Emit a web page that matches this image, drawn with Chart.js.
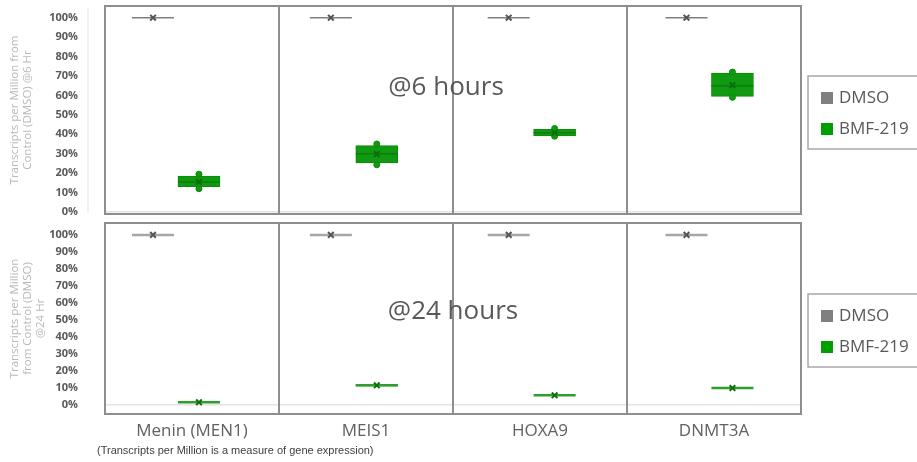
<!DOCTYPE html>
<html>
<head>
<meta charset="utf-8">
<script src="https://cdn.jsdelivr.net/npm/chart.js@4.4.1/dist/chart.umd.min.js"></script>
<style>
body { margin: 0; background: #fff; }
#wrap { position: relative; width: 917px; height: 462px; }
#wrap canvas { position: absolute; left: 0; }
</style>
</head>
<body>
<div id="wrap">
  <canvas id="panel6" width="917" height="218" style="top:0"></canvas>
  <canvas id="panel24" width="917" height="244" style="top:218px"></canvas>
</div>
<script>
// categories + tick labels
var genes = ['Menin (MEN1)', 'MEIS1', 'HOXA9', 'DNMT3A'];
var seriesNames = ['DMSO', 'BMF-219'];
var yTicks = [0, 10, 20, 30, 40, 50, 60, 70, 80, 90, 100];

// DMSO is the control, so every stat sits at 100%
var dmsoAll = [100, 100, 100, 100];

// @6 hours, BMF-219 (% of DMSO)
var bmf6Min    = [12.0, 24.3, 39.0, 59.0];
var bmf6Q1     = [13.0, 25.3, 39.2, 59.5];
var bmf6Median = [15.5, 30.0, 40.8, 65.0];
var bmf6Q3     = [18.5, 34.2, 42.6, 71.5];
var bmf6Max    = [19.5, 35.0, 43.0, 72.0];
var bmf6Mean   = [15.5, 29.8, 40.8, 65.3];

// @24 hours, BMF-219 (% of DMSO)
var bmf24Min    = [1.4, 10.9, 5.5, 9.8];
var bmf24Q1     = [1.4, 10.9, 5.5, 9.8];
var bmf24Median = [1.4, 11.4, 5.5, 9.8];
var bmf24Q3     = [1.4, 11.9, 5.5, 9.8];
var bmf24Max    = [1.4, 11.9, 5.5, 9.8];
var bmf24Mean   = [1.4, 11.4, 5.5, 9.8];

var GREEN = '#119a11';
var GREY = '#808080';
var TEXT = '#595959';

// where each series sits inside a gene's column
var slotOffset = [0.276, 0.54];
var slotSpacing = 1.022;
function xPos(s, i) { return i * slotSpacing + slotOffset[s]; }

function buildPanel(id, cfg) {
  var datasets = [];
  cfg.series.forEach(function (st, s) {
    datasets.push({
      type: 'bar', label: seriesNames[s] + ' box', grouped: false, order: 5,
      data: genes.map(function (g, i) { return { x: xPos(s, i), y: [st.q1[i], st.q3[i]] }; }),
      backgroundColor: st.fill, borderColor: st.edge, borderWidth: 1, borderSkipped: false,
      barThickness: 42
    });
    datasets.push({
      type: 'bar', label: seriesNames[s] + ' whisker', grouped: false, order: 6,
      data: genes.map(function (g, i) { return { x: xPos(s, i), y: [st.min[i], st.max[i]] }; }),
      backgroundColor: st.edge, borderWidth: 0, barThickness: 2
    });
    datasets.push({
      type: 'scatter', label: seriesNames[s] + ' median', order: 3,
      data: genes.map(function (g, i) { return { x: xPos(s, i), y: st.median[i] }; }),
      pointStyle: 'line', pointRadius: 21, borderColor: st.lineColor, borderWidth: st.lineWidth
    });
    if (st.dots) {
      var pts = [];
      genes.forEach(function (g, i) {
        pts.push({ x: xPos(s, i), y: st.min[i] });
        pts.push({ x: xPos(s, i), y: st.max[i] });
      });
      datasets.push({
        type: 'scatter', label: seriesNames[s] + ' points', order: 2, data: pts,
        pointStyle: 'circle', pointRadius: 3, backgroundColor: st.fill, borderColor: st.edge, borderWidth: 1
      });
    }
    datasets.push({
      type: 'scatter', label: seriesNames[s] + ' mean', order: 1,
      data: genes.map(function (g, i) { return { x: xPos(s, i), y: st.mean[i] }; }),
      pointStyle: 'crossRot', pointRadius: 4, borderColor: st.markColor, borderWidth: 2
    });
  });

  var decor = {
    id: 'decor',
    beforeDatasetsDraw: function (chart) {
      var ctx = chart.ctx, a = chart.chartArea, x = chart.scales.x;
      ctx.save();
      if (cfg.axisLine) {
        ctx.strokeStyle = '#e2e2e2'; ctx.lineWidth = 1;
        ctx.beginPath(); ctx.moveTo(a.left - 17, a.top + 2); ctx.lineTo(a.left - 17, a.bottom - 1); ctx.stroke();
      }
      ctx.strokeStyle = '#8e8e8e'; ctx.lineWidth = 2;
      ctx.strokeRect(a.left, a.top, a.right - a.left, a.bottom - a.top);
      for (var k = 1; k < genes.length; k++) {
        var px = Math.round(x.getPixelForValue(k));
        ctx.beginPath(); ctx.moveTo(px, a.top); ctx.lineTo(px, a.bottom); ctx.stroke();
      }
      ctx.restore();
    },
    afterDraw: function (chart) {
      var ctx = chart.ctx, a = chart.chartArea;
      ctx.save();
      // panel title
      ctx.fillStyle = TEXT; ctx.font = '26px "Open Sans"';
      ctx.textAlign = 'center'; ctx.textBaseline = 'middle';
      ctx.fillText(cfg.title, chart.scales.x.getPixelForValue(cfg.titleAt[0]), chart.scales.y.getPixelForValue(cfg.titleAt[1]));
      // legend
      var lx = a.right + 7, ly = 76;
      ctx.strokeStyle = '#a8a8a8'; ctx.lineWidth = 1.5;
      ctx.strokeRect(lx, ly, 130, 73);
      ctx.font = '17px "Open Sans"'; ctx.textAlign = 'left';
      [GREY, '#009e00'].forEach(function (c, s) {
        var cy = ly + 22 + s * 31;
        ctx.fillStyle = c; ctx.fillRect(lx + 13, cy - 6, 12, 12);
        ctx.fillStyle = TEXT; ctx.fillText(seriesNames[s], lx + 31, cy);
      });
      if (cfg.footnote) {
        ctx.fillStyle = '#404040'; ctx.font = '11px "Liberation Sans"';
        ctx.fillText(cfg.footnote, 97, 233);
      }
      ctx.restore();
    }
  };

  return new Chart(document.getElementById(id), {
    type: 'bar',
    data: { datasets: datasets },
    plugins: [decor],
    options: {
      responsive: false, animation: false, devicePixelRatio: 1,
      layout: { padding: cfg.padding, autoPadding: false },
      plugins: { legend: { display: false }, tooltip: { enabled: false } },
      scales: {
        x: {
          type: 'linear', min: 0, max: genes.length, offset: false, display: cfg.showLabels,
          afterBuildTicks: function (sc) { sc.ticks = genes.map(function (g, i) { return { value: i + 0.5 }; }); },
          afterFit: function (sc) {
            sc.height = cfg.showLabels ? 48 : 0;
            sc.paddingLeft = 0; sc.paddingRight = 0;
          },
          grid: { display: false, drawTicks: false }, border: { display: false },
          ticks: {
            autoSkip: false, maxRotation: 0, padding: 7, color: '#616161',
            font: { family: 'Open Sans', size: 17 },
            callback: function (v) { return genes[Math.floor(v)]; }
          }
        },
        y: {
          min: cfg.yRange[0], max: cfg.yRange[1],
          afterBuildTicks: function (sc) { sc.ticks = yTicks.map(function (v) { return { value: v }; }); },
          afterFit: function (sc) { sc.width = 105; sc.paddingTop = 0; sc.paddingBottom = 0; },
          grid: {
            drawTicks: false, lineWidth: 1.5,
            color: function (c) { return c.tick && c.tick.value === 0 ? '#e4e4e4' : 'rgba(0,0,0,0)'; }
          },
          border: { display: false },
          ticks: {
            autoSkip: false, padding: 27, color: TEXT, font: { family: 'Open Sans', size: 11, weight: 'bold' },
            callback: function (v) { return v + '%'; }
          },
          title: {
            display: true, text: cfg.yTitle, color: '#b8b8b8',
            font: { family: 'Open Sans', size: 11.5, lineHeight: 1.15 }, padding: { top: 8, bottom: 0 }
          }
        }
      }
    }
  });
}

buildPanel('panel6', {
  title: '@6 hours', titleAt: [1.96, 64],
  yTitle: ['Transcripts per Million from', 'Control (DMSO) @6 Hr'],
  yRange: [-1, 106], padding: { top: 6, right: 116, bottom: 4, left: 0 },
  showLabels: false, axisLine: true,
  series: [
    { min: dmsoAll, q1: dmsoAll, median: dmsoAll, q3: dmsoAll, max: dmsoAll, mean: dmsoAll,
      fill: GREY, edge: GREY, lineColor: '#7f7f7f', lineWidth: 1.5, markColor: '#555555', dots: false },
    { min: bmf6Min, q1: bmf6Q1, median: bmf6Median, q3: bmf6Q3, max: bmf6Max, mean: bmf6Mean,
      fill: GREEN, edge: '#0b8a0b', lineColor: '#0a7d0a', lineWidth: 1.5, markColor: '#0a6e0a', dots: true }
  ]
});

buildPanel('panel24', {
  title: '@24 hours', titleAt: [2.0, 55],
  yTitle: ['Transcripts per Million', 'from Control (DMSO)', '@24 Hr'],
  yRange: [-5.5, 107], padding: { top: 5, right: 116, bottom: 0, left: 0 },
  showLabels: true, axisLine: false,
  footnote: '(Transcripts per Million is a measure of gene expression)',
  series: [
    { min: dmsoAll, q1: dmsoAll, median: dmsoAll, q3: dmsoAll, max: dmsoAll, mean: dmsoAll,
      fill: '#a6a6a6', edge: '#a6a6a6', lineColor: '#a6a6a6', lineWidth: 2.5, markColor: '#555555', dots: false },
    { min: bmf24Min, q1: bmf24Q1, median: bmf24Median, q3: bmf24Q3, max: bmf24Max, mean: bmf24Mean,
      fill: GREEN, edge: '#1a8f1a', lineColor: '#2e9e2e', lineWidth: 2.5, markColor: '#0b6f0b', dots: false }
  ]
});
</script>
</body>
</html>
